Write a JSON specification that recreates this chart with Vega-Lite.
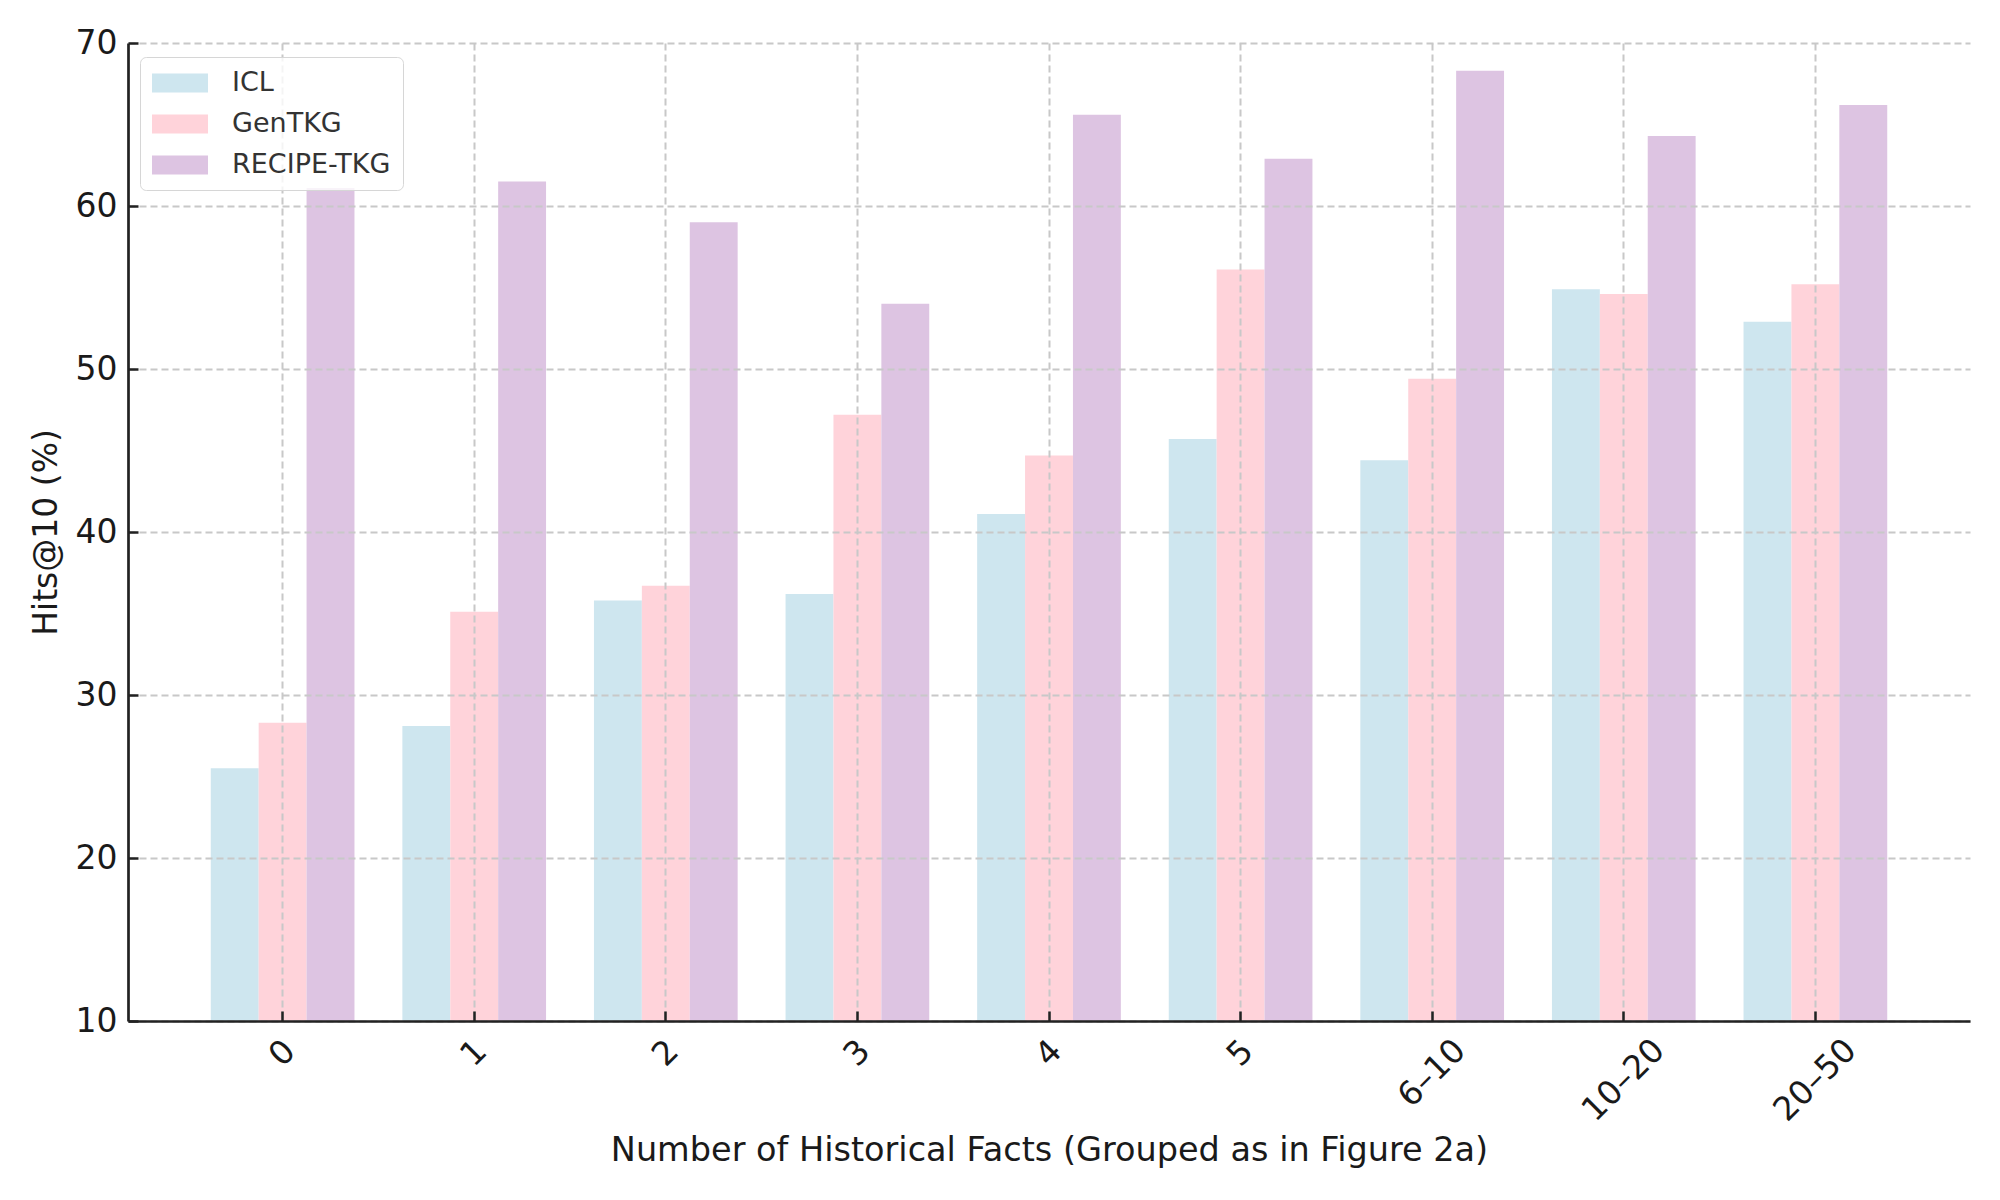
{
  "$schema": "https://vega.github.io/schema/vega-lite/v6.json",
  "description": "Hits@10 by number of historical facts for ICL, GenTKG and RECIPE-TKG",
  "width": 1842,
  "height": 978,
  "autosize": {"type": "none"},
  "padding": {"left": 128, "top": 43, "right": 30, "bottom": 179},
  "background": "white",
  "data": {
    "values": [
      {"group": "0", "model": "ICL", "hits": 25.5},
      {"group": "0", "model": "GenTKG", "hits": 28.3},
      {"group": "0", "model": "RECIPE-TKG", "hits": 61.1},
      {"group": "1", "model": "ICL", "hits": 28.1},
      {"group": "1", "model": "GenTKG", "hits": 35.1},
      {"group": "1", "model": "RECIPE-TKG", "hits": 61.5},
      {"group": "2", "model": "ICL", "hits": 35.8},
      {"group": "2", "model": "GenTKG", "hits": 36.7},
      {"group": "2", "model": "RECIPE-TKG", "hits": 59.0},
      {"group": "3", "model": "ICL", "hits": 36.2},
      {"group": "3", "model": "GenTKG", "hits": 47.2},
      {"group": "3", "model": "RECIPE-TKG", "hits": 54.0},
      {"group": "4", "model": "ICL", "hits": 41.1},
      {"group": "4", "model": "GenTKG", "hits": 44.7},
      {"group": "4", "model": "RECIPE-TKG", "hits": 65.6},
      {"group": "5", "model": "ICL", "hits": 45.7},
      {"group": "5", "model": "GenTKG", "hits": 56.1},
      {"group": "5", "model": "RECIPE-TKG", "hits": 62.9},
      {"group": "6–10", "model": "ICL", "hits": 44.4},
      {"group": "6–10", "model": "GenTKG", "hits": 49.4},
      {"group": "6–10", "model": "RECIPE-TKG", "hits": 68.3},
      {"group": "10–20", "model": "ICL", "hits": 54.9},
      {"group": "10–20", "model": "GenTKG", "hits": 54.6},
      {"group": "10–20", "model": "RECIPE-TKG", "hits": 64.3},
      {"group": "20–50", "model": "ICL", "hits": 52.9},
      {"group": "20–50", "model": "GenTKG", "hits": 55.2},
      {"group": "20–50", "model": "RECIPE-TKG", "hits": 66.2}
    ]
  },
  "mark": {"type": "bar", "clip": true},
  "encoding": {
    "x": {
      "field": "group",
      "type": "nominal",
      "sort": ["0", "1", "2", "3", "4", "5", "6–10", "10–20", "20–50"],
      "scale": {"paddingInner": 0.25, "paddingOuter": 0.432},
      "axis": {
        "title": "Number of Historical Facts (Grouped as in Figure 2a)",
        "titleFontSize": 33.5,
        "titleFontWeight": "normal",
        "titleColor": "#1a1a1a",
        "titlePadding": 7,
        "labelAngle": -45,
        "labelAlign": "center",
        "labelBaseline": "middle",
        "labelFontSize": 33,
        "labelColor": "#1a1a1a",
        "labelPadding": {
          "condition": [
            {"test": "length(datum.value) == 5", "value": 69},
            {"test": "length(datum.value) == 4", "value": 62}
          ],
          "value": 42
        },
        "labelOverlap": false,
        "labelBound": false,
        "tickSize": -10,
        "tickColor": "#222222",
        "tickWidth": 2.5,
        "domainColor": "#222222",
        "domainWidth": 2.7,
        "grid": true,
        "gridColor": "#c8c8c8",
        "gridDash": [7, 4],
        "gridWidth": 2,
        "bandPosition": 0.5,
        "zindex": 1
      }
    },
    "xOffset": {
      "field": "model",
      "sort": ["ICL", "GenTKG", "RECIPE-TKG"],
      "scale": {"paddingInner": 0, "paddingOuter": 0}
    },
    "y": {
      "field": "hits",
      "type": "quantitative",
      "scale": {"domain": [10, 70], "nice": false, "zero": false},
      "axis": {
        "title": "Hits@10 (%)",
        "titleFontSize": 33,
        "titleFontWeight": "normal",
        "titleColor": "#1a1a1a",
        "titlePadding": 12,
        "values": [10, 20, 30, 40, 50, 60, 70],
        "labelFontSize": 33,
        "labelColor": "#1a1a1a",
        "labelPadding": 21,
        "tickSize": -10,
        "tickColor": "#222222",
        "tickWidth": 2.5,
        "domainColor": "#222222",
        "domainWidth": 2.7,
        "grid": true,
        "gridColor": "#c8c8c8",
        "gridDash": [7, 4],
        "gridWidth": 2,
        "zindex": 1
      }
    },
    "color": {
      "field": "model",
      "type": "nominal",
      "sort": ["ICL", "GenTKG", "RECIPE-TKG"],
      "scale": {
        "domain": ["ICL", "GenTKG", "RECIPE-TKG"],
        "range": ["#cee6ef", "#ffd3da", "#ddc4e2"]
      },
      "legend": {
        "title": null,
        "orient": "none",
        "legendX": 12,
        "legendY": 14,
        "direction": "vertical",
        "symbolType": "M-1,-0.68H3V0.68H-1Z",
        "symbolSize": 784,
        "symbolStrokeWidth": 0,
        "symbolOpacity": 1,
        "labelFontSize": 27,
        "labelColor": "#333333",
        "labelLimit": 0,
        "labelOffset": 52,
        "rowPadding": 14,
        "padding": 12,
        "fillColor": "rgba(255,255,255,0.8)",
        "strokeColor": "#d6d6d6",
        "cornerRadius": 6,
        "zindex": 2
      }
    }
  },
  "config": {
    "view": {"stroke": null},
    "font": "DejaVu Sans"
  }
}
